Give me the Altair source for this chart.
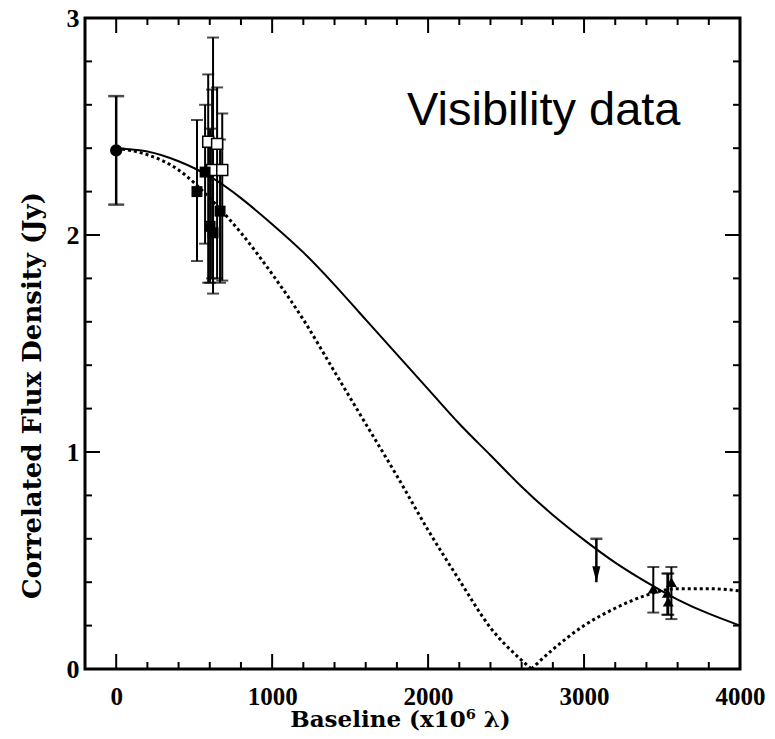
import altair as alt
import pandas as pd

# ---------------- data ----------------
solid_x = [0, 200, 400, 600, 800, 1000, 1200, 1400, 1600, 1800, 2000, 2200, 2400,
           2600, 2800, 3000, 3200, 3400, 3600, 3800, 4000]
solid_y = [2.40, 2.385, 2.34, 2.27, 2.17, 2.05, 1.92, 1.77, 1.61, 1.45, 1.29, 1.13,
           0.985, 0.84, 0.71, 0.595, 0.49, 0.40, 0.32, 0.255, 0.20]

dot_x = [0, 200, 400, 600, 800, 1000, 1200, 1400, 1600, 1800, 2000, 2200, 2400, 2600,
         2662, 2662, 2800, 3000, 3200, 3400, 3600, 3800, 4000]
dot_y = [2.40, 2.37, 2.30, 2.17, 2.01, 1.82, 1.61, 1.37, 1.13, 0.89, 0.64, 0.41, 0.19,
         0.04, 0.0, 0.0, 0.09, 0.20, 0.28, 0.34, 0.37, 0.37, 0.36]
dot_seg = ["a"] * 15 + ["b"] * 8

circ_x = [0]
circ_y = [2.39]
circ_lo = [2.14]
circ_hi = [2.64]

sq_x = [518, 570, 590, 602, 615, 621, 647, 666, 680]
sq_y = [2.20, 2.29, 2.43, 2.04, 2.30, 2.01, 2.42, 2.11, 2.30]
sq_lo = [1.88, 1.96, 1.78, 1.78, 1.80, 1.73, 1.80, 1.78, 1.79]
sq_hi = [2.53, 2.60, 2.74, 2.49, 2.67, 2.91, 2.68, 2.44, 2.56]
sq_kind = ["filled", "filled", "open", "filled", "open", "filled", "open", "filled", "open"]

tri_x = [3444, 3534, 3540, 3560]
tri_y = [0.37, 0.35, 0.31, 0.40]
tri_lo = [0.26, 0.25, 0.25, 0.23]
tri_hi = [0.47, 0.44, 0.44, 0.47]

lim_x = [3079]
lim_top = [0.60]
lim_tip = [0.40]

label_text = ["Visibility data"]
label_x = [1865]
label_y = [2.505]

x_major = [0, 1000, 2000, 3000, 4000]
x_minor = [200, 400, 600, 800, 1200, 1400, 1600, 1800, 2200, 2400, 2600, 2800,
           3200, 3400, 3600, 3800]
y_major = [0, 1, 2, 3]
y_minor = [0.2, 0.4, 0.6, 0.8, 1.2, 1.4, 1.6, 1.8, 2.2, 2.4, 2.6, 2.8]

# ---------------- chart ----------------
W, H = 655, 651
xs = alt.Scale(domain=[-200, 4000], nice=False, zero=False)
ys = alt.Scale(domain=[0, 3], nice=False, zero=False)
FONT = "Liberation Serif"
TFONT = "DejaVu Serif"

solid_df = pd.DataFrame({"x": solid_x, "y": solid_y})
dot_df = pd.DataFrame({"x": dot_x, "y": dot_y, "seg": dot_seg})
circ_df = pd.DataFrame({"x": circ_x, "y": circ_y, "lo": circ_lo, "hi": circ_hi})
sq_df = pd.DataFrame({"x": sq_x, "y": sq_y, "lo": sq_lo, "hi": sq_hi, "kind": sq_kind})
tri_df = pd.DataFrame({"x": tri_x, "y": tri_y, "lo": tri_lo, "hi": tri_hi})
lim_df = pd.DataFrame({"x": lim_x, "top": lim_top, "tip": lim_tip})
lab_df = pd.DataFrame({"t": label_text, "x": label_x, "y": label_y})

xaxis = alt.Axis(values=x_major, ticks=False, domain=False, grid=False, format="d",
                 labelFont=FONT, labelFontWeight="bold", labelFontSize=25,
                 labelColor="black", labelPadding=15, labelFlush=False,
                 title="Baseline (x10⁶ λ)", titleFont=TFONT, titleFontWeight="bold",
                 titleFontSize=23, titleColor="black",
                 titleX=315, titleY=57, titleBaseline="alphabetic")
yaxis = alt.Axis(values=y_major, ticks=False, domain=False, grid=False, format="d",
                 labelFont=FONT, labelFontWeight="bold", labelFontSize=26,
                 labelColor="black", labelPadding=6, labelFlush=False,
                 title="Correlated Flux Density (Jy)", titleFont=TFONT,
                 titleFontWeight="bold", titleFontSize=26, titleColor="black",
                 titleX=-45, titleY=377, titleBaseline="alphabetic")


def X(f):
    return alt.X(f, scale=xs, axis=xaxis)


def Y(f):
    return alt.Y(f, scale=ys, axis=yaxis)


solid = alt.Chart(solid_df).mark_line(color="black", strokeWidth=2,
                                      interpolate="natural").encode(
    x=X("x:Q"), y=Y("y:Q"))

dotted = alt.Chart(dot_df).mark_line(color="black", strokeWidth=3,
                                     strokeDash=[3, 3], interpolate="monotone").encode(
    x=X("x:Q"), y=Y("y:Q"), detail="seg:N")


def errbars(df, sw, cap):
    bars = alt.Chart(df).mark_rule(color="black", strokeWidth=sw).encode(
        x=X("x:Q"), y=Y("lo:Q"), y2="hi:Q")
    top = alt.Chart(df).mark_tick(color="black", orient="horizontal", size=cap,
                                  thickness=sw).encode(x=X("x:Q"), y=Y("hi:Q"))
    bot = alt.Chart(df).mark_tick(color="black", orient="horizontal", size=cap,
                                  thickness=sw).encode(x=X("x:Q"), y=Y("lo:Q"))
    return [bars, top, bot]


circ_pts = alt.Chart(circ_df).mark_point(shape="circle", filled=True, color="black",
                                         size=150, opacity=1).encode(
    x=X("x:Q"), y=Y("y:Q"))

sq_filled = alt.Chart(sq_df).transform_filter(alt.datum.kind == "filled").mark_point(
    shape="square", filled=True, color="black", size=120, opacity=1).encode(
    x=X("x:Q"), y=Y("y:Q"))
sq_open = alt.Chart(sq_df).transform_filter(alt.datum.kind == "open").mark_point(
    shape="square", filled=True, fill="white", stroke="black", strokeWidth=1.5,
    size=120, opacity=1).encode(x=X("x:Q"), y=Y("y:Q"))

tri_pts = alt.Chart(tri_df).mark_point(shape="triangle-up", filled=True, color="black",
                                       size=120, opacity=1).encode(
    x=X("x:Q"), y=Y("y:Q"))

lim_rule = alt.Chart(lim_df).mark_rule(color="black", strokeWidth=2.5).encode(
    x=X("x:Q"), y=Y("tip:Q"), y2="top:Q")
lim_cap = alt.Chart(lim_df).mark_tick(color="black", orient="horizontal", size=12,
                                      thickness=2.5).encode(x=X("x:Q"), y=Y("top:Q"))
lim_head = alt.Chart(lim_df).mark_point(
    shape="M-0.5,-1L0.5,-1L0,1Z", filled=True, color="black", size=260, opacity=1,
    yOffset=-8).encode(x=X("x:Q"), y=Y("tip:Q"))

label = alt.Chart(lab_df).mark_text(
    font="Liberation Sans", fontSize=47, align="left", baseline="alphabetic",
    color="black").encode(x=X("x:Q"), y=Y("y:Q"), text="t:N")


def xticks(vals, L):
    d = pd.DataFrame({"v": vals})
    b = alt.Chart(d).mark_rule(color="black", strokeWidth=2).encode(
        x=X("v:Q"), y=alt.value(H), y2=alt.value(H - L))
    t = alt.Chart(d).mark_rule(color="black", strokeWidth=2).encode(
        x=X("v:Q"), y=alt.value(0), y2=alt.value(L))
    return [b, t]


def yticks(vals, L):
    d = pd.DataFrame({"v": vals})
    l = alt.Chart(d).mark_rule(color="black", strokeWidth=2).encode(
        y=Y("v:Q"), x=alt.value(0), x2=alt.value(L))
    r = alt.Chart(d).mark_rule(color="black", strokeWidth=2).encode(
        y=Y("v:Q"), x=alt.value(W), x2=alt.value(W - L))
    return [l, r]


layers = [solid, dotted]
layers += xticks(x_major, 15) + xticks(x_minor, 7) + yticks(y_major, 15) + yticks(y_minor, 7)
layers += errbars(circ_df, 2.5, 16) + [circ_pts]
layers += errbars(sq_df, 2, 12) + [sq_open, sq_filled]
layers += errbars(tri_df, 2, 12) + [tri_pts]
layers += [lim_rule, lim_cap, lim_head, label]

chart = alt.layer(*layers).properties(
    width=W, height=H,
    autosize=alt.AutoSizeParams(type="none"),
    padding={"left": 77, "top": 10, "right": 27, "bottom": 62},
    background="white",
).configure_view(stroke="black", strokeWidth=3)

chart.save("out.html", embed_options={"renderer": "svg", "actions": False})
